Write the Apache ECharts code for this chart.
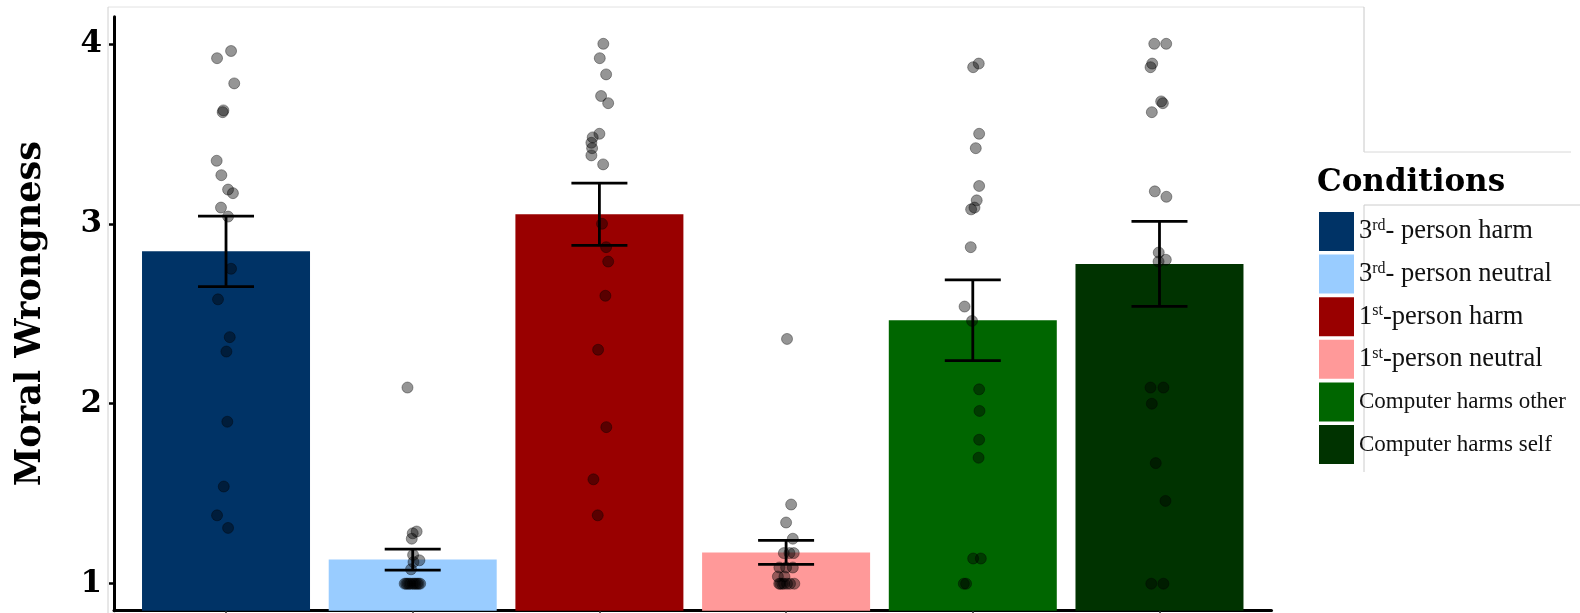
<!DOCTYPE html>
<html>
<head>
<meta charset="utf-8">
<script src="https://cdn.jsdelivr.net/npm/echarts@6/dist/echarts.min.js"></script>
<style>
html,body{margin:0;padding:0;background:#fff;}
#chart{width:1580px;height:613px;}
</style>
</head>
<body>
<div id="chart"></div>
<script>
// ---- data ----
const categories = ['3rd- person harm', '3rd- person neutral', '1st-person harm', '1st-person neutral', 'Computer harms other', 'Computer harms self'];
const colors = ['#003366', '#99CCFF', '#990000', '#FF9999', '#006600', '#003300'];
const means = [2.847, 1.134, 3.053, 1.174, 2.464, 2.777];
const stdErr = [0.196, 0.058, 0.173, 0.067, 0.224, 0.236];
const yTicks = [1, 2, 3, 4];

const pointsHarm3 = [3.96, 3.92, 3.78, 3.62, 3.63, 3.35, 3.27, 3.19, 3.17, 3.09, 3.04, 2.75, 2.58, 2.37, 2.29, 1.90, 1.54, 1.38, 1.31];
const jitterHarm3 = [0.027, -0.048, 0.044, -0.018, -0.014, -0.050, -0.025, 0.011, 0.037, -0.027, 0.011, 0.027, -0.043, 0.020, 0.002, 0.007, -0.012, -0.048, 0.011];

const pointsNeutral3 = [2.09, 1.29, 1.28, 1.25, 1.16, 1.13, 1.12, 1.08, 1, 1, 1, 1, 1, 1, 1, 1, 1, 1, 1];
const jitterNeutral3 = [-0.028, 0.021, 0, -0.005, 0.002, 0.036, 0.004, -0.009, -0.043, -0.035, -0.027, -0.019, -0.011, 0, 0.008, 0.016, 0.024, 0.032, 0.040];

const pointsHarm1 = [4.0, 3.92, 3.83, 3.71, 3.67, 3.50, 3.48, 3.45, 3.42, 3.38, 3.33, 3.00, 2.87, 2.79, 2.60, 2.30, 1.87, 1.58, 1.38];
const jitterHarm1 = [0.021, 0.002, 0.036, 0.009, 0.047, 0, -0.036, -0.043, -0.039, -0.043, 0.020, 0.014, 0.036, 0.047, 0.032, -0.007, 0.037, -0.032, -0.009];

const pointsNeutral1 = [2.36, 1.44, 1.34, 1.25, 1.17, 1.17, 1.17, 1.09, 1.09, 1.09, 1.04, 1.04, 1, 1, 1, 1, 1, 1, 1];
const jitterNeutral1 = [0.005, 0.027, 0, 0.036, -0.012, 0.018, 0.041, -0.036, 0, 0.036, -0.044, -0.009, -0.031, 0.044, -0.037, -0.021, -0.011, 0.005, 0.021];

const pointsCompOther = [3.89, 3.87, 3.50, 3.42, 3.21, 3.13, 3.09, 3.08, 2.87, 2.54, 2.46, 2.08, 1.96, 1.80, 1.70, 1.14, 1.14, 1, 1];
const jitterCompOther = [0.032, 0.002, 0.034, 0.016, 0.034, 0.021, 0.009, -0.009, -0.011, -0.044, -0.004, 0.034, 0.036, 0.034, 0.031, 0.043, 0.002, -0.036, -0.048];

const pointsCompSelf = [4, 4, 3.89, 3.87, 3.68, 3.67, 3.62, 3.18, 3.15, 2.84, 2.79, 2.80, 2.09, 2.09, 2.0, 1.67, 1.46, 1, 1];
const jitterCompSelf = [-0.028, 0.036, -0.039, -0.048, 0.009, 0.018, -0.041, -0.025, 0.037, -0.004, -0.005, 0.034, -0.048, 0.021, -0.041, -0.020, 0.032, -0.044, 0.021];

// ---- build options ----
const allPoints = [pointsHarm3, pointsNeutral3, pointsHarm1, pointsNeutral1, pointsCompOther, pointsCompSelf];
const allJitter = [jitterHarm3, jitterNeutral3, jitterHarm1, jitterNeutral1, jitterCompOther, jitterCompSelf];

const scatterData = [];
allPoints.forEach((arr, i) => {
  arr.forEach((v, j) => scatterData.push([i + 1 + allJitter[i][j], v]));
});
const errData = means.map((m, i) => [i + 1, m - stdErr[i], m + stdErr[i]]);

const barSeries = categories.map((name, i) => ({
  name: name,
  type: 'bar',
  data: [[i + 1, means[i]]],
  barWidth: 168,
  barGap: '-100%',
  itemStyle: { color: colors[i] },
  emphasis: { disabled: true },
  z: 2
}));

const serifBold = 'DejaVu Serif';
const chart = echarts.init(document.getElementById('chart'), null, { renderer: 'canvas' });
chart.setOption({
  animation: false,
  backgroundColor: '#fff',
  grid: { left: 114, right: 308.5, top: 16.8, bottom: 2.3, containLabel: false },
  xAxis: {
    type: 'value', min: 0.4, max: 6.6,
    axisLine: { show: true, lineStyle: { color: '#000', width: 3 } },
    axisTick: { show: true, customValues: [1, 2, 3, 4, 5, 6], length: 3, lineStyle: { color: '#333', width: 1.5 } },
    axisLabel: { show: false },
    splitLine: { show: false }
  },
  yAxis: {
    type: 'value', min: 0.85, max: 4.15,
    name: 'Moral Wrongness', nameLocation: 'middle', nameGap: 66, nameRotate: 90,
    nameTextStyle: { fontFamily: serifBold, fontWeight: 'bold', fontSize: 35, color: '#000' },
    axisLine: { show: true, lineStyle: { color: '#000', width: 3 } },
    axisTick: { show: true, customValues: yTicks, length: 5, lineStyle: { color: '#000', width: 2.5 } },
    axisLabel: { customValues: yTicks, margin: 12, fontFamily: serifBold, fontWeight: 'bold', fontSize: 31, color: '#000' },
    splitLine: { show: false }
  },
  legend: {
    data: categories,
    orient: 'vertical',
    left: 1319, top: 212,
    itemWidth: 35, itemHeight: 39, itemGap: 3.6,
    icon: 'rect',
    selectedMode: false,
    padding: 0,
    formatter: function (name) {
      const m = name.match(/^(\d)(rd|st)(.*)$/);
      if (m) return '{n|' + m[1] + '}{s|' + m[2] + '}{n|' + m[3] + '}';
      return '{c|' + name + '}';
    },
    textStyle: {
      color: '#111',
      rich: {
        n: { fontFamily: 'Liberation Serif', fontSize: 26.5, color: '#111' },
        s: { fontFamily: 'Liberation Serif', fontSize: 16, color: '#111', verticalAlign: 'top' },
        c: { fontFamily: 'Liberation Serif', fontSize: 23, color: '#111' }
      }
    }
  },
  title: {
    text: 'Conditions', left: 1317, top: 167, padding: 0,
    textStyle: { fontFamily: serifBold, fontWeight: 'bold', fontSize: 31, color: '#000' }
  },
  graphic: [
    { type: 'line', silent: true, z: -1, shape: { x1: 108, y1: 7, x2: 1364, y2: 7 }, style: { stroke: '#e2e2e2', lineWidth: 1 } },
    { type: 'line', silent: true, z: -1, shape: { x1: 108, y1: 7, x2: 108, y2: 613 }, style: { stroke: '#d0d0d0', lineWidth: 1 } },
    { type: 'line', silent: true, z: -1, shape: { x1: 1364, y1: 7, x2: 1364, y2: 152 }, style: { stroke: '#c8c8c8', lineWidth: 1 } },
    { type: 'line', silent: true, z: -1, shape: { x1: 1364, y1: 152, x2: 1571, y2: 152 }, style: { stroke: '#d8d8d8', lineWidth: 1 } },
    { type: 'line', silent: true, z: -1, shape: { x1: 1364, y1: 205, x2: 1580, y2: 205 }, style: { stroke: '#cccccc', lineWidth: 1 } },
    { type: 'line', silent: true, z: -1, shape: { x1: 1364, y1: 205, x2: 1364, y2: 472 }, style: { stroke: '#cccccc', lineWidth: 1 } }
  ],
  series: barSeries.concat([
    {
      name: 'points', type: 'scatter', data: scatterData,
      symbol: 'circle', symbolSize: 11,
      itemStyle: { color: 'rgba(0,0,0,0.52)', borderColor: 'rgba(0,0,0,0.45)', borderWidth: 1 },
      emphasis: { disabled: true }, z: 3
    },
    {
      name: 'se', type: 'custom', data: errData,
      encode: { x: 0, y: [1, 2] },
      renderItem: function (params, api) {
        const x = api.value(0);
        const lo = api.coord([x, api.value(1)]);
        const hi = api.coord([x, api.value(2)]);
        const hw = 28;
        const st = { stroke: '#000', lineWidth: 2.8 };
        return {
          type: 'group',
          children: [
            { type: 'line', shape: { x1: lo[0], y1: lo[1], x2: hi[0], y2: hi[1] }, style: st },
            { type: 'line', shape: { x1: hi[0] - hw, y1: hi[1], x2: hi[0] + hw, y2: hi[1] }, style: st },
            { type: 'line', shape: { x1: lo[0] - hw, y1: lo[1], x2: lo[0] + hw, y2: lo[1] }, style: st }
          ]
        };
      },
      z: 4
    }
  ])
});
</script>
</body>
</html>
